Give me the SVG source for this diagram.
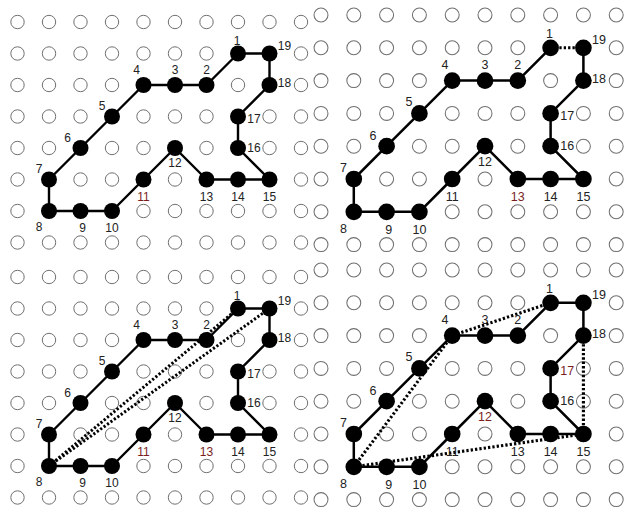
<svg xmlns="http://www.w3.org/2000/svg" xmlns:xlink="http://www.w3.org/1999/xlink" width="628" height="510" viewBox="0 0 628 510">
<style>
.g{fill:#fff;stroke:#707070;stroke-width:1}
.n{fill:#000}
.e{fill:none;stroke:#000;stroke-width:2.4;stroke-linejoin:round}
.d{fill:none;stroke:#000;stroke-width:3;stroke-dasharray:2.2 2}
text{font-family:"Liberation Sans",Arial,sans-serif;font-size:12px;fill:#222;text-anchor:middle}
text.r{fill:#7a1e1e}
</style>
<defs>
<g id="row">
<circle class="g" cx="0" cy="0" r="6.7"/><circle class="g" cx="31.5" cy="0" r="6.7"/><circle class="g" cx="63" cy="0" r="6.7"/><circle class="g" cx="94.5" cy="0" r="6.7"/><circle class="g" cx="126" cy="0" r="6.7"/><circle class="g" cx="157.5" cy="0" r="6.7"/><circle class="g" cx="189" cy="0" r="6.7"/><circle class="g" cx="220.5" cy="0" r="6.7"/><circle class="g" cx="252" cy="0" r="6.7"/><circle class="g" cx="283.5" cy="0" r="6.7"/>
</g>
<g id="grid">
<use href="#row" y="0"/><use href="#row" y="31.5"/><use href="#row" y="63"/><use href="#row" y="94.5"/><use href="#row" y="126"/><use href="#row" y="157.5"/><use href="#row" y="189"/><use href="#row" y="220.5"/>
</g>
</defs>
<rect width="628" height="510" fill="#fff"/>

<!-- Panel 1 -->
<g id="panel1" transform="translate(17.5,22)">
<use href="#grid"/>
<g id="p1-connectors">
<polygon class="e" points="220.5,31.5 189,63 157.5,63 126,63 94.5,94.5 63,126 31.5,157.5 31.5,189 63,189 94.5,189 126,157.5 157.5,126 189,157.5 220.5,157.5 252,157.5 220.5,126 220.5,94.5 252,63 252,31.5"/>
</g>
<g id="p1-n1"><circle class="n" cx="220.5" cy="31.5" r="8"/><text x="219.5" y="22.5">1</text></g>
<g id="p1-n2"><circle class="n" cx="189" cy="63" r="8"/><text x="189" y="52">2</text></g>
<g id="p1-n3"><circle class="n" cx="157.5" cy="63" r="8"/><text x="157.5" y="52">3</text></g>
<g id="p1-n4"><circle class="n" cx="126" cy="63" r="8"/><text x="119" y="52">4</text></g>
<g id="p1-n5"><circle class="n" cx="94.5" cy="94.5" r="8"/><text x="84.5" y="87.5">5</text></g>
<g id="p1-n6"><circle class="n" cx="63" cy="126" r="8"/><text x="50" y="120">6</text></g>
<g id="p1-n7"><circle class="n" cx="31.5" cy="157.5" r="8"/><text x="21.5" y="150.5">7</text></g>
<g id="p1-n8"><circle class="n" cx="31.5" cy="189" r="8"/><text x="21.5" y="209">8</text></g>
<g id="p1-n9"><circle class="n" cx="63" cy="189" r="8"/><text x="65" y="210">9</text></g>
<g id="p1-n10"><circle class="n" cx="94.5" cy="189" r="8"/><text x="94.5" y="210">10</text></g>
<g id="p1-n11"><circle class="n" cx="126" cy="157.5" r="8"/><text class="r" x="126" y="178.5">11</text></g>
<g id="p1-n12"><circle class="n" cx="157.5" cy="126" r="8"/><text x="157.5" y="145">12</text></g>
<g id="p1-n13"><circle class="n" cx="189" cy="157.5" r="8"/><text x="189" y="178.5">13</text></g>
<g id="p1-n14"><circle class="n" cx="220.5" cy="157.5" r="8"/><text x="220.5" y="178.5">14</text></g>
<g id="p1-n15"><circle class="n" cx="252" cy="157.5" r="8"/><text x="252" y="178.5">15</text></g>
<g id="p1-n16"><circle class="n" cx="220.5" cy="126" r="8"/><text x="236.5" y="130">16</text></g>
<g id="p1-n17"><circle class="n" cx="220.5" cy="94.5" r="8"/><text x="236.5" y="100.5">17</text></g>
<g id="p1-n18"><circle class="n" cx="252" cy="63" r="8"/><text x="267" y="65">18</text></g>
<g id="p1-n19"><circle class="n" cx="252" cy="31.5" r="8"/><text x="267" y="27.5">19</text></g>
</g>

<!-- Panel 2 -->
<g id="panel2" transform="translate(321,15) scale(1.0413)">
<use href="#grid"/>
<g id="p2-connectors">
<polyline class="e" points="220.5,31.5 189,63 157.5,63 126,63 94.5,94.5 63,126 31.5,157.5 31.5,189 63,189 94.5,189 126,157.5 157.5,126 189,157.5 220.5,157.5 252,157.5 220.5,126 220.5,94.5 252,63 252,31.5"/>
<line class="d" x1="220.5" y1="31.5" x2="252" y2="31.5"/>
</g>
<g id="p2-n1"><circle class="n" cx="220.5" cy="31.5" r="8"/><text x="219.5" y="22.5">1</text></g>
<g id="p2-n2"><circle class="n" cx="189" cy="63" r="8"/><text x="189" y="52">2</text></g>
<g id="p2-n3"><circle class="n" cx="157.5" cy="63" r="8"/><text x="157.5" y="52">3</text></g>
<g id="p2-n4"><circle class="n" cx="126" cy="63" r="8"/><text x="119" y="52">4</text></g>
<g id="p2-n5"><circle class="n" cx="94.5" cy="94.5" r="8"/><text x="84.5" y="87.5">5</text></g>
<g id="p2-n6"><circle class="n" cx="63" cy="126" r="8"/><text x="50" y="120">6</text></g>
<g id="p2-n7"><circle class="n" cx="31.5" cy="157.5" r="8"/><text x="21.5" y="150.5">7</text></g>
<g id="p2-n8"><circle class="n" cx="31.5" cy="189" r="8"/><text x="21.5" y="209">8</text></g>
<g id="p2-n9"><circle class="n" cx="63" cy="189" r="8"/><text x="65" y="210">9</text></g>
<g id="p2-n10"><circle class="n" cx="94.5" cy="189" r="8"/><text x="94.5" y="210">10</text></g>
<g id="p2-n11"><circle class="n" cx="126" cy="157.5" r="8"/><text x="126" y="178.5">11</text></g>
<g id="p2-n12"><circle class="n" cx="157.5" cy="126" r="8"/><text x="157.5" y="145">12</text></g>
<g id="p2-n13"><circle class="n" cx="189" cy="157.5" r="8"/><text class="r" x="189" y="178.5">13</text></g>
<g id="p2-n14"><circle class="n" cx="220.5" cy="157.5" r="8"/><text x="220.5" y="178.5">14</text></g>
<g id="p2-n15"><circle class="n" cx="252" cy="157.5" r="8"/><text x="252" y="178.5">15</text></g>
<g id="p2-n16"><circle class="n" cx="220.5" cy="126" r="8"/><text x="236.5" y="130">16</text></g>
<g id="p2-n17"><circle class="n" cx="220.5" cy="94.5" r="8"/><text x="236.5" y="100.5">17</text></g>
<g id="p2-n18"><circle class="n" cx="252" cy="63" r="8"/><text x="267" y="65">18</text></g>
<g id="p2-n19"><circle class="n" cx="252" cy="31.5" r="8"/><text x="267" y="27.5">19</text></g>
</g>

<!-- Panel 3 -->
<g id="panel3" transform="translate(17.5,277)">
<use href="#grid"/>
<g id="p3-connectors">
<polygon class="e" points="220.5,31.5 189,63 157.5,63 126,63 94.5,94.5 63,126 31.5,157.5 31.5,189 63,189 94.5,189 126,157.5 157.5,126 189,157.5 220.5,157.5 252,157.5 220.5,126 220.5,94.5 252,63 252,31.5"/>
<line class="d" x1="31.5" y1="189" x2="220.5" y2="31.5"/>
<line class="d" x1="31.5" y1="189" x2="252" y2="31.5"/>
</g>
<g id="p3-n1"><circle class="n" cx="220.5" cy="31.5" r="8"/><text x="219.5" y="22.5">1</text></g>
<g id="p3-n2"><circle class="n" cx="189" cy="63" r="8"/><text x="189" y="52">2</text></g>
<g id="p3-n3"><circle class="n" cx="157.5" cy="63" r="8"/><text x="157.5" y="52">3</text></g>
<g id="p3-n4"><circle class="n" cx="126" cy="63" r="8"/><text x="119" y="52">4</text></g>
<g id="p3-n5"><circle class="n" cx="94.5" cy="94.5" r="8"/><text x="84.5" y="87.5">5</text></g>
<g id="p3-n6"><circle class="n" cx="63" cy="126" r="8"/><text x="50" y="120">6</text></g>
<g id="p3-n7"><circle class="n" cx="31.5" cy="157.5" r="8"/><text x="21.5" y="150.5">7</text></g>
<g id="p3-n8"><circle class="n" cx="31.5" cy="189" r="8"/><text x="21.5" y="209">8</text></g>
<g id="p3-n9"><circle class="n" cx="63" cy="189" r="8"/><text x="65" y="210">9</text></g>
<g id="p3-n10"><circle class="n" cx="94.5" cy="189" r="8"/><text x="94.5" y="210">10</text></g>
<g id="p3-n11"><circle class="n" cx="126" cy="157.5" r="8"/><text class="r" x="126" y="178.5">11</text></g>
<g id="p3-n12"><circle class="n" cx="157.5" cy="126" r="8"/><text x="157.5" y="145">12</text></g>
<g id="p3-n13"><circle class="n" cx="189" cy="157.5" r="8"/><text class="r" x="189" y="178.5">13</text></g>
<g id="p3-n14"><circle class="n" cx="220.5" cy="157.5" r="8"/><text x="220.5" y="178.5">14</text></g>
<g id="p3-n15"><circle class="n" cx="252" cy="157.5" r="8"/><text x="252" y="178.5">15</text></g>
<g id="p3-n16"><circle class="n" cx="220.5" cy="126" r="8"/><text x="236.5" y="130">16</text></g>
<g id="p3-n17"><circle class="n" cx="220.5" cy="94.5" r="8"/><text x="236.5" y="100.5">17</text></g>
<g id="p3-n18"><circle class="n" cx="252" cy="63" r="8"/><text x="267" y="65">18</text></g>
<g id="p3-n19"><circle class="n" cx="252" cy="31.5" r="8"/><text x="267" y="27.5">19</text></g>
</g>

<!-- Panel 4 -->
<g id="panel4" transform="translate(321,270) scale(1.0413)">
<use href="#grid"/>
<g id="p4-connectors">
<polygon class="e" points="220.5,31.5 189,63 157.5,63 126,63 94.5,94.5 63,126 31.5,157.5 31.5,189 63,189 94.5,189 126,157.5 157.5,126 189,157.5 220.5,157.5 252,157.5 220.5,126 220.5,94.5 252,63 252,31.5"/>
<line class="d" x1="220.5" y1="31.5" x2="126" y2="63"/>
<line class="d" x1="126" y1="63" x2="31.5" y2="189"/>
<line class="d" x1="31.5" y1="189" x2="252" y2="157.5"/>
<line class="d" x1="252" y1="157.5" x2="252" y2="63"/>
</g>
<g id="p4-n1"><circle class="n" cx="220.5" cy="31.5" r="8"/><text x="219.5" y="22.5">1</text></g>
<g id="p4-n2"><circle class="n" cx="189" cy="63" r="8"/><text x="189" y="52">2</text></g>
<g id="p4-n3"><circle class="n" cx="157.5" cy="63" r="8"/><text x="157.5" y="52">3</text></g>
<g id="p4-n4"><circle class="n" cx="126" cy="63" r="8"/><text x="119" y="52">4</text></g>
<g id="p4-n5"><circle class="n" cx="94.5" cy="94.5" r="8"/><text x="84.5" y="87.5">5</text></g>
<g id="p4-n6"><circle class="n" cx="63" cy="126" r="8"/><text x="50" y="120">6</text></g>
<g id="p4-n7"><circle class="n" cx="31.5" cy="157.5" r="8"/><text x="21.5" y="150.5">7</text></g>
<g id="p4-n8"><circle class="n" cx="31.5" cy="189" r="8"/><text x="21.5" y="209">8</text></g>
<g id="p4-n9"><circle class="n" cx="63" cy="189" r="8"/><text x="65" y="210">9</text></g>
<g id="p4-n10"><circle class="n" cx="94.5" cy="189" r="8"/><text x="94.5" y="210">10</text></g>
<g id="p4-n11"><circle class="n" cx="126" cy="157.5" r="8"/><text x="126" y="178.5">11</text></g>
<g id="p4-n12"><circle class="n" cx="157.5" cy="126" r="8"/><text class="r" x="157.5" y="145">12</text></g>
<g id="p4-n13"><circle class="n" cx="189" cy="157.5" r="8"/><text x="189" y="178.5">13</text></g>
<g id="p4-n14"><circle class="n" cx="220.5" cy="157.5" r="8"/><text x="220.5" y="178.5">14</text></g>
<g id="p4-n15"><circle class="n" cx="252" cy="157.5" r="8"/><text x="252" y="178.5">15</text></g>
<g id="p4-n16"><circle class="n" cx="220.5" cy="126" r="8"/><text x="236.5" y="130">16</text></g>
<g id="p4-n17"><circle class="n" cx="220.5" cy="94.5" r="8"/><text class="r" x="236.5" y="100.5">17</text></g>
<g id="p4-n18"><circle class="n" cx="252" cy="63" r="8"/><text x="267" y="65">18</text></g>
<g id="p4-n19"><circle class="n" cx="252" cy="31.5" r="8"/><text x="267" y="27.5">19</text></g>
</g>
</svg>
